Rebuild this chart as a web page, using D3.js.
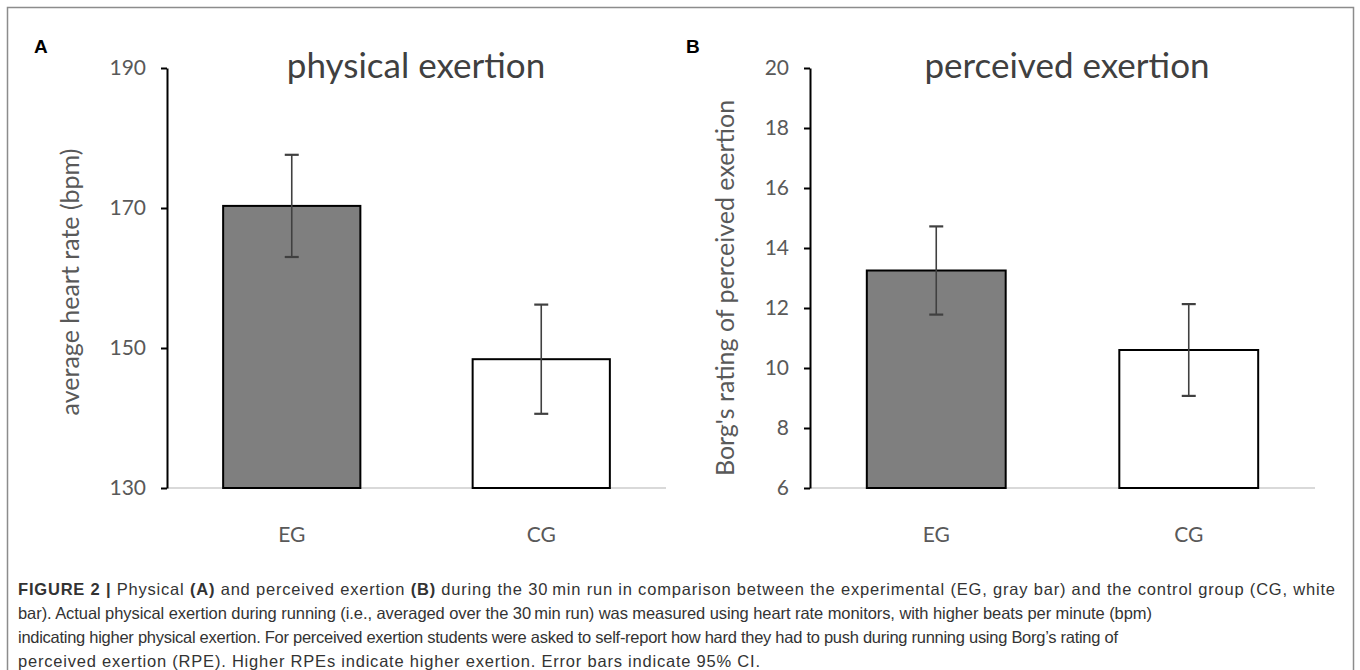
<!DOCTYPE html>
<html>
<head>
<meta charset="utf-8">
<script src="https://cdn.jsdelivr.net/npm/d3@7"></script>
<style>
  body { margin: 0; background: #fff; }
  svg { display: block; }
</style>
</head>
<body>
<div id="chart-area"></div>
<script>
// values
const groups = ["EG", "CG"];
const heartRate = [170.3, 148.4];
const heartRateCI = [7.3, 7.8];
const heartTicks = [130, 150, 170, 190];
const borgRating = [13.25, 10.6];
const borgRatingCI = [1.47, 1.53];
const borgTicks = [6, 8, 10, 12, 14, 16, 18, 20];
const barFills = ["#7f7f7f", "#ffffff"];

const width = 1360;
const height = 670;

const svg = d3.select('#chart-area')
    .append('svg')
    .attr("width", width)
    .attr("height", height);

// outer frame (bottom edge runs off the picture)
svg.append('rect')
    .attr('x', 7.5)
    .attr('y', 7.5)
    .attr('width', 1346)
    .attr('height', 700)
    .attr('fill', 'none')
    .attr('stroke', '#8c8c8c')
    .attr('stroke-width', 1.5);

const chartFont = "Lato, 'Open Sans', sans-serif";

function drawPanel(p) {
    const g = svg.append('g');

    const x = d3.scaleBand()
        .domain(groups)
        .range([p.left, p.right])
        .paddingInner(0.45)
        .paddingOuter(0.225);

    const y = d3.scaleLinear()
        .domain(p.domain)
        .range([488, 68]);

    // panel letter
    g.append('text')
        .attr('x', p.letterX)
        .attr('y', 53)
        .attr('font-family', "'Liberation Sans', Arial, sans-serif")
        .attr('font-weight', 'bold')
        .attr('font-size', '19px')
        .attr('fill', '#000')
        .text(p.letter);

    // title
    g.append('text')
        .attr('x', p.titleX)
        .attr('y', 78)
        .attr('text-anchor', 'middle')
        .attr('font-family', chartFont)
        .attr('font-size', '35px')
        .attr('fill', '#404040')
        .text(p.title);

    // baseline
    g.append('line')
        .attr('x1', p.left)
        .attr('x2', p.right)
        .attr('y1', y(p.domain[0]))
        .attr('y2', y(p.domain[0]))
        .attr('stroke', '#d9d9d9')
        .attr('stroke-width', 2);

    // bars
    g.selectAll('rect.bar')
        .data(p.values)
        .enter()
        .append('rect')
        .attr('class', 'bar')
        .attr('x', (d, i) => x(groups[i]))
        .attr('y', d => y(d))
        .attr('width', x.bandwidth())
        .attr('height', d => y(p.domain[0]) - y(d))
        .attr('fill', (d, i) => barFills[i])
        .attr('stroke', '#000')
        .attr('stroke-width', 2);

    // error bars
    const err = g.selectAll('g.err')
        .data(p.values)
        .enter()
        .append('g')
        .attr('class', 'err')
        .attr('stroke', '#404040')
        .attr('stroke-width', 1.6);

    err.append('line')
        .attr('x1', (d, i) => x(groups[i]) + x.bandwidth() / 2)
        .attr('x2', (d, i) => x(groups[i]) + x.bandwidth() / 2)
        .attr('y1', (d, i) => y(d + p.ci[i]))
        .attr('y2', (d, i) => y(d - p.ci[i]));

    [1, -1].forEach(s => {
        err.append('line')
            .attr('x1', (d, i) => x(groups[i]) + x.bandwidth() / 2 - 7)
            .attr('x2', (d, i) => x(groups[i]) + x.bandwidth() / 2 + 7)
            .attr('y1', (d, i) => y(d + s * p.ci[i]))
            .attr('y2', (d, i) => y(d + s * p.ci[i]))
            .attr('stroke-width', 2.2);
    });

    // y axis
    const yAxis = d3.axisLeft(y)
        .tickValues(p.ticks)
        .tickSize(6)
        .tickSizeOuter(0)
        .tickPadding(15);
    const ya = g.append('g')
        .attr('transform', `translate(${p.left}, 0)`)
        .call(yAxis);
    ya.selectAll('.domain, .tick line')
        .attr('stroke', '#000')
        .attr('stroke-width', 2);
    ya.selectAll('.tick text')
        .attr('font-family', chartFont)
        .attr('font-size', '21px')
        .attr('fill', '#595959');

    // x labels
    g.selectAll('text.xlab')
        .data(groups)
        .enter()
        .append('text')
        .attr('class', 'xlab')
        .attr('x', d => x(d) + x.bandwidth() / 2)
        .attr('y', 542)
        .attr('text-anchor', 'middle')
        .attr('font-family', chartFont)
        .attr('font-size', '21px')
        .attr('fill', '#595959')
        .text(d => d);

    // y axis title
    g.append('text')
        .attr('transform', `translate(${p.yLabelX}, ${p.yLabelY}) rotate(-90)`)
        .attr('text-anchor', 'middle')
        .attr('dominant-baseline', 'middle')
        .attr('font-family', chartFont)
        .attr('font-size', '25px')
        .attr('fill', '#595959')
        .text(p.yLabel);
}

drawPanel({
    letter: "A", letterX: 34,
    title: "physical exertion", titleX: 416,
    left: 167, right: 666,
    domain: [130, 190], ticks: heartTicks,
    values: heartRate, ci: heartRateCI,
    yLabel: "average heart rate (bpm)", yLabelX: 73, yLabelY: 282
});

drawPanel({
    letter: "B", letterX: 686,
    title: "perceived exertion", titleX: 1067,
    left: 810, right: 1315,
    domain: [6, 20], ticks: borgTicks,
    values: borgRating, ci: borgRatingCI,
    yLabel: "Borg's rating of perceived exertion", yLabelX: 728, yLabelY: 288
});

// caption, one entry per printed line: [text, bold]
const captionLines = [
    [["FIGURE 2 | ", true], ["Physical ", false], ["(A)", true], [" and perceived exertion ", false], ["(B)", true],
     [" during the 30\u2009min run in comparison between the experimental (EG, gray bar) and the control group (CG, white", false]],
    [["bar). Actual physical exertion during running (i.e., averaged over the 30\u2009min run) was measured using heart rate monitors, with higher beats per minute (bpm)", false]],
    [["indicating higher physical exertion. For perceived exertion students were asked to self-report how hard they had to push during running using Borg\u2019s rating of", false]],
    [["perceived exertion (RPE). Higher RPEs indicate higher exertion. Error bars indicate 95% CI.", false]]
];
// where each printed line ends in the figure
const captionLineEnds = [1335, 1152, 1118, 760];

captionLines.forEach((line, li) => {
    const t = svg.append('text')
        .attr('x', 18)
        .attr('y', 595 + li * 24)
        .attr('font-family', "'Liberation Sans', Arial, sans-serif")
        .attr('font-size', '16.5px')
        .attr('fill', '#333')
        .attr('textLength', captionLineEnds[li] - 18)
        .attr('lengthAdjust', 'spacing');
    line.forEach(part => {
        t.append('tspan')
            .attr('font-weight', part[1] ? 'bold' : 'normal')
            .text(part[0]);
    });
});
</script>
</body>
</html>
